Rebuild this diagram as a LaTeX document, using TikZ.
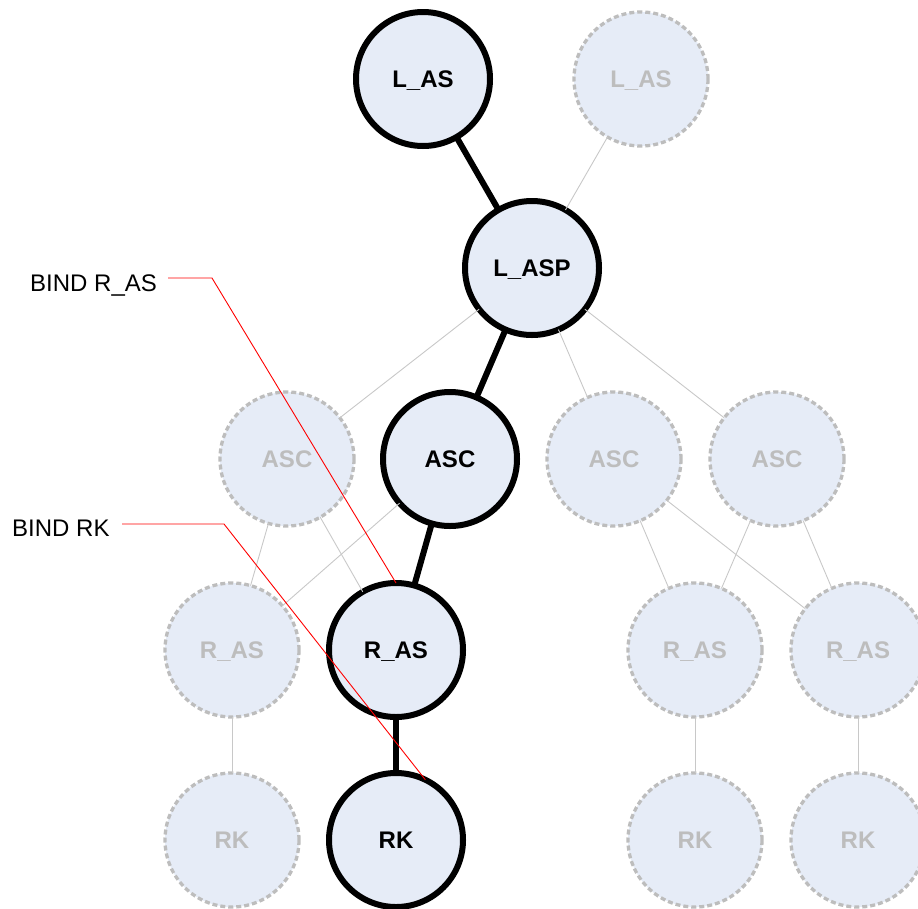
\documentclass[tikz,border=0pt]{standalone}
\usepackage{fontspec}
\setmainfont{Liberation Sans}
\definecolor{nodefill}{HTML}{E6ECF7}
\definecolor{fadegray}{HTML}{BDBDBD}
\definecolor{edgegray}{HTML}{C8C8C8}
\begin{document}
\begin{tikzpicture}[x=1pt,y=-1pt,
  basecirc/.style={circle, minimum size=134pt, inner sep=0pt, outer sep=0pt, fill=nodefill,
    font=\fontsize{24}{28}\selectfont\bfseries, text height=17pt, text depth=0pt},
  active/.style={basecirc, draw=black, line width=6pt, text=black},
  faded/.style={basecirc, draw=fadegray, line width=3.3pt, dash pattern=on 5pt off 3pt, text=fadegray},
  boldedge/.style={draw=black, line width=6pt},
  fadeedge/.style={draw=edgegray, line width=0.9pt},
  bindline/.style={draw=red, line width=0.9pt},
  bindlabel/.style={anchor=west, inner sep=0pt, font=\fontsize{24}{28}\selectfont, text height=17pt, text depth=0pt}
]
\useasboundingbox (0,0) rectangle (918,908);
% nodes
\node[active] (las1) at (423,79) {L\_AS};
\node[faded]  (las2) at (641,79) {L\_AS};
\node[active] (lasp) at (532,268) {L\_ASP};
\node[faded]  (asc1) at (287,459) {ASC};
\node[active] (asc2) at (450,459) {ASC};
\node[faded]  (asc3) at (614,459) {ASC};
\node[faded]  (asc4) at (777,459) {ASC};
\node[faded]  (ras1) at (232,650) {R\_AS};
\node[active] (ras2) at (396,650) {R\_AS};
\node[faded]  (ras3) at (695,650) {R\_AS};
\node[faded]  (ras4) at (858,650) {R\_AS};
\node[faded]  (rk1) at (232,840) {RK};
\node[active] (rk2) at (396,840) {RK};
\node[faded]  (rk3) at (695,840) {RK};
\node[faded]  (rk4) at (858,840) {RK};
% faded edges
\draw[fadeedge] (las2) -- (lasp);
\draw[fadeedge] (lasp) -- (asc1);
\draw[fadeedge] (lasp) -- (asc3);
\draw[fadeedge] (lasp) -- (asc4);
\draw[fadeedge] (asc1) -- (ras1);
\draw[fadeedge] (asc1) -- (ras2);
\draw[fadeedge] (asc2) -- (ras1);
\draw[fadeedge] (asc3) -- (ras3);
\draw[fadeedge] (asc3) -- (ras4);
\draw[fadeedge] (asc4) -- (ras3);
\draw[fadeedge] (asc4) -- (ras4);
\draw[fadeedge] (ras1) -- (rk1);
\draw[fadeedge] (ras3) -- (rk3);
\draw[fadeedge] (ras4) -- (rk4);
% bold edges
\draw[boldedge] (las1) -- (lasp);
\draw[boldedge] (lasp) -- (asc2);
\draw[boldedge] (asc2) -- (ras2);
\draw[boldedge] (ras2) -- (rk2);
% bind labels
\node[bindlabel] (bindras) at (30,283) {BIND R\_AS};
\node[bindlabel] (bindrk) at (12,528) {BIND RK};
\coordinate (brasA) at (168,278);
\coordinate (brasB) at (212,278);
\coordinate (brkA) at (122,524);
\coordinate (brkB) at (224,524);
\draw[bindline] (brasA) -- (brasB) -- (ras2.north);
\draw[bindline] (brkA) -- (brkB) -- (rk2.64);
\end{tikzpicture}
\end{document}
